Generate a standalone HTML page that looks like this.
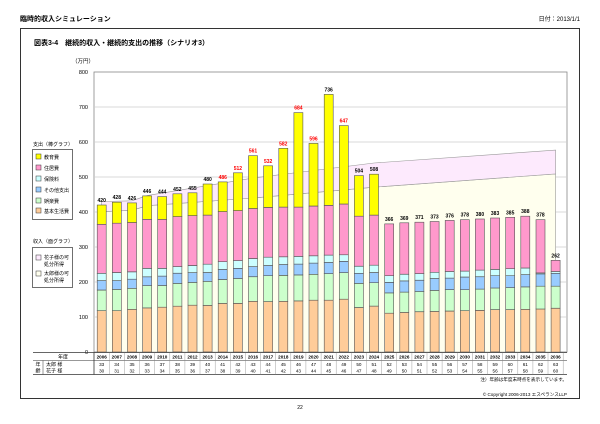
<!DOCTYPE html>
<html><head><meta charset="utf-8"><style>
body{margin:0;background:#fff;width:600px;height:424px;overflow:hidden}
svg{display:block;font-family:"Liberation Sans","Noto Sans CJK JP",sans-serif}
</style></head><body>
<div id="w"></div>
<script>
(function(){
var h='';
function y(v){return 352-0.35*v;}
function X(i){return 101.7+15.13*i;}
function t(x,yy,str,sz,anc,col,w){h+='<text x="'+x+'" y="'+yy+'" font-size="'+sz+'" text-anchor="'+(anc||'start')+'" fill="'+(col||'#000')+'"'+(w?' font-weight="bold"':'')+'>'+str+'</text>';}
t(20,21,'臨時的収入シミュレーション',7,'start','#000',1);
t(580,21,'日付：2013/1/1',6,'end');
h+='<rect x="20.5" y="28.5" width="559" height="370" fill="none" stroke="#333" stroke-width="1"/>';
t(34,45,'図表3-4　継続的収入・継続的支出の推移（シナリオ3）',7,'start','#000',1);
t(72,63,'（万円）',5.5);
h+='<rect x="94" y="72" width="473" height="280" fill="#fff" stroke="#888" stroke-width="0.8"/>';
for(var v=100;v<800;v+=100)h+='<line x1="94" x2="567" y1="'+y(v)+'" y2="'+y(v)+'" stroke="#ccc" stroke-width="0.8"/>';
for(var v=0;v<=800;v+=100)t(88,y(v)+2,v,5.5,'end');
var tp=[[0,430],[2,432],[3,447],[10,497],[18,540],[30,577]],lw=[[0,401],[2,405],[3,418],[10,440],[18,471],[30,509]];
function pts(a){return a.map(function(p){return X(p[0]).toFixed(1)+','+y(p[1]).toFixed(1)}).join(' ');}
h+='<polygon points="'+pts(lw)+' '+X(30)+','+y(0)+' '+X(0)+','+y(0)+'" fill="#FFFFEE" stroke="#999" stroke-width="0.6"/>';
h+='<polygon points="'+pts(tp)+' '+pts(lw.slice().reverse())+'" fill="#FDEAFD" stroke="#999" stroke-width="0.6"/>';
var D=[[118,177,204,225,365,420],[118,179,204,227,368,428],[122,182,208,229,370,426],[126,190,215,239,379,446],[128,190,217,239,379,444],[131,196,225,244,387,452],[134,199,227,247,390,455],[133,202,227,251,391,480],[139,207,236,258,401,486],[139,210,239,261,404,512],[145,215,244,267,410,561],[144,218,247,271,413,532],[145,219,250,272,414,582],[146,220,251,273,414,684],[148,222,254,275,417,596],[148,224,256,277,419,736],[151,227,259,278,423,647],[127,196,225,245,388,504],[131,198,227,248,391,508],[111,169,199,218,366,366],[113,171,203,222,369,369],[115,173,205,224,371,371],[116,176,210,228,373,373],[117,178,211,230,376,376],[118,178,214,231,378,378],[119,180,215,234,380,380],[121,183,218,236,383,383],[121,184,218,238,385,385],[122,186,221,240,388,388],[123,188,223,226,378,378],[125,188,225,230,262,262]];
var C=['#FFCC99','#CCFFCC','#99CCFF','#CCFFFF','#FF99CC','#FFFF00'];
var red={2014:1,2015:1,2016:1,2017:1,2018:1,2019:1,2020:1,2022:1};
for(var i=0;i<31;i++){var d=D[i],prev=0,x=X(i)-4.5;
 for(var k=0;k<6;k++){var v2=d[k];if(v2>prev){h+='<rect x="'+x.toFixed(1)+'" y="'+y(v2).toFixed(1)+'" width="9" height="'+(0.35*(v2-prev)).toFixed(1)+'" fill="'+C[k]+'" stroke="#555" stroke-width="0.6"/>';}prev=Math.max(prev,v2);}
 t(X(i),y(d[5])-3,d[5],5,'middle',red[2006+i]?'#f00':'#000',1);
}
t(33,146,'支出（棒グラフ）',5);
h+='<rect x="32.5" y="149.5" width="40" height="70" fill="#fff" stroke="#333" stroke-width="0.7"/>';
var L=['教育費','住居費','保険料','その他支出','娯楽費','基本生活費'],LY=[157,168,179,190,201,211],LC=['#FFFF00','#FF99CC','#CCFFFF','#99CCFF','#CCFFCC','#FFCC99'];
for(var k=0;k<6;k++){h+='<rect x="36" y="'+(LY[k]-3)+'" width="5" height="5" fill="'+LC[k]+'" stroke="#333" stroke-width="0.5"/>';t(44,LY[k]+2,L[k],5);}
t(33,243,'収入（面グラフ）',5);
h+='<rect x="32.5" y="247.5" width="40" height="40" fill="#fff" stroke="#333" stroke-width="0.7"/>';
h+='<rect x="36" y="255" width="5" height="5" fill="#FDEAFD" stroke="#333" stroke-width="0.5"/>';t(44,259,'花子様の可',5);t(44,266,'処分所得',5);
h+='<rect x="36" y="271" width="5" height="5" fill="#FFFFEE" stroke="#333" stroke-width="0.5"/>';t(44,275,'太郎様の可',5);t(44,282,'処分所得',5);
h+='<line x1="33" x2="567" y1="352.5" y2="352.5" stroke="#333" stroke-width="0.8"/>';
h+='<line x1="33" x2="567" y1="360.5" y2="360.5" stroke="#333" stroke-width="0.6"/>';
h+='<line x1="33" x2="567" y1="374.5" y2="374.5" stroke="#333" stroke-width="0.8"/>';
h+='<line x1="43" x2="43" y1="360.5" y2="374.5" stroke="#333" stroke-width="0.5"/>';
h+='<line x1="94" x2="94" y1="352.5" y2="374.5" stroke="#333" stroke-width="0.8"/>';
t(63,358.5,'年度',5,'middle');t(38,366,'年',5,'middle');t(38,372.5,'齢',5,'middle');t(46,366,'太郎 様',5);t(46,372.5,'花子 様',5);
for(var i=0;i<31;i++){var cx=X(i);h+='<line x1="'+(cx+7.56).toFixed(1)+'" x2="'+(cx+7.56).toFixed(1)+'" y1="352.5" y2="374.5" stroke="#888" stroke-width="0.4"/>';
 t(cx.toFixed(1),358.5,2006+i,4.6,'middle','#000',1);t(cx.toFixed(1),366,33+i,4.6,'middle');t(cx.toFixed(1),372.5,30+i,4.6,'middle');}
t(567,381,'注）年齢は年度末時点を表示しています。',4.6,'end');
t(567,396,'&#169; Copyright 2006-2013 エスペランスLLP',4.6,'end');
t(300,409,'22',5,'middle');
document.getElementById('w').innerHTML='<svg width="600" height="424" xmlns="http://www.w3.org/2000/svg">'+h+'</svg>';
})();
</script>
</body></html>
